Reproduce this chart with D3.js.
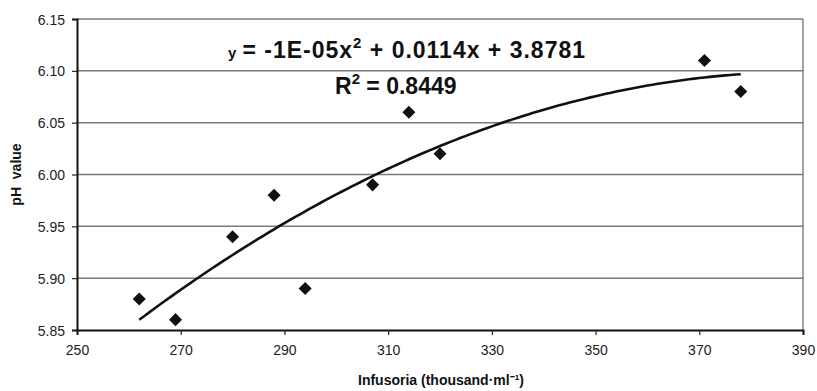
<!DOCTYPE html>
<html><head><meta charset="utf-8">
<script src="https://cdn.jsdelivr.net/npm/d3@7"></script>
<style>body{margin:0;background:#fff}svg{display:block}</style>
</head><body>
<svg id="c" width="817" height="391"></svg>
<script>
const infusoria = [262, 269, 280, 288, 294, 307, 314, 320, 371, 378];
const phValues  = [5.88, 5.86, 5.94, 5.98, 5.89, 5.99, 6.06, 6.02, 6.11, 6.08];
const xTicks = [250, 270, 290, 310, 330, 350, 370, 390];
const yTicks = [5.85, 5.90, 5.95, 6.00, 6.05, 6.10, 6.15];
const eqText = "= -1E-05x";
const eqRest = " + 0.0114x + 3.8781";
const r2Text = " = 0.8449";

const svg = d3.select("#c");
const L = 77, R = 803, T = 19, B = 330;
const x = d3.scaleLinear().domain([250, 390]).range([L, R]);
const y = d3.scaleLinear().domain([5.85, 6.15]).range([B, T]);
const font = "'Liberation Sans', Arial, sans-serif";

// gridlines
svg.append("g").selectAll("line").data(yTicks.slice(1)).join("line")
  .attr("x1", L).attr("x2", R).attr("y1", d => y(d)).attr("y2", d => y(d))
  .attr("stroke", "#7a7a7a").attr("stroke-width", 1.5);
// right border
svg.append("line").attr("x1", R).attr("x2", R).attr("y1", T).attr("y2", B)
  .attr("stroke", "#666").attr("stroke-width", 1.2);

// axes
const xAxis = svg.append("g").attr("transform", `translate(0,${B})`)
  .call(d3.axisBottom(x).tickValues(xTicks).tickSize(5).tickPadding(10).tickFormat(d3.format("d")));
const yAxis = svg.append("g").attr("transform", `translate(${L},0)`)
  .call(d3.axisLeft(y).tickValues(yTicks).tickSize(5).tickPadding(7).tickFormat(d3.format(".2f")));
[xAxis, yAxis].forEach(g => {
  g.select(".domain").attr("stroke", "#111").attr("stroke-width", 2);
  g.selectAll(".tick line").attr("stroke", "#222").attr("stroke-width", 1.2);
  g.selectAll("text").attr("font-family", font).attr("font-size", 14).attr("fill", "#222");
});
yAxis.selectAll("text").attr("dy", "0.36em");

// quadratic least squares trendline
function quadFit(xs, ys) {
  let S = [0,0,0,0,0], Sy = [0,0,0];
  xs.forEach((xi, i) => {
    for (let k = 0; k < 5; k++) S[k] += Math.pow(xi, k);
    for (let k = 0; k < 3; k++) Sy[k] += Math.pow(xi, k) * ys[i];
  });
  const M = [[S[0],S[1],S[2],Sy[0]],[S[1],S[2],S[3],Sy[1]],[S[2],S[3],S[4],Sy[2]]];
  for (let i = 0; i < 3; i++) {
    let p = i; for (let r = i+1; r < 3; r++) if (Math.abs(M[r][i]) > Math.abs(M[p][i])) p = r;
    [M[i], M[p]] = [M[p], M[i]];
    for (let r = 0; r < 3; r++) if (r !== i) {
      const f = M[r][i] / M[i][i];
      for (let c = i; c < 4; c++) M[r][c] -= f * M[i][c];
    }
  }
  return [M[0][3]/M[0][0], M[1][3]/M[1][1], M[2][3]/M[2][2]];
}
const [c0, c1, c2] = quadFit(infusoria, phValues);
const xmin = d3.min(infusoria), xmax = d3.max(infusoria);
const curve = d3.range(xmin, xmax + 0.01, 1).map(v => [v, c0 + c1*v + c2*v*v]);
svg.append("path").datum(curve)
  .attr("d", d3.line().x(d => x(d[0])).y(d => y(d[1])))
  .attr("fill", "none").attr("stroke", "#111").attr("stroke-width", 2.6);

// points
svg.append("g").selectAll("path").data(infusoria.map((v, i) => [v, phValues[i]])).join("path")
  .attr("d", d3.symbol(d3.symbolSquare, 85))
  .attr("transform", d => `translate(${x(d[0])},${y(d[1])}) rotate(45)`)
  .attr("fill", "#111");

// equation
const eq = svg.append("text").attr("x", 228).attr("y", 58)
  .attr("font-family", font).attr("font-weight", "bold").attr("font-size", 23).attr("fill", "#111");
eq.append("tspan").attr("font-size", 15).text("y ");
eq.append("tspan").text(eqText);
eq.append("tspan").attr("font-size", 15).attr("dy", -10).text("2");
eq.append("tspan").attr("dy", 10).text(eqRest);
const eqW = eq.node().getComputedTextLength();
const nCh = ("y " + eqText + "2" + eqRest).length;
eq.attr("letter-spacing", Math.max(0, (586 - 228 - eqW) / nCh));

const r2 = svg.append("text").attr("x", 335).attr("y", 94)
  .attr("font-family", font).attr("font-weight", "bold").attr("font-size", 23).attr("fill", "#111");
r2.append("tspan").text("R");
r2.append("tspan").attr("font-size", 15).attr("dy", -10).text("2");
r2.append("tspan").attr("dy", 10).text(r2Text);

// axis titles
svg.append("text").attr("x", 441).attr("y", 385).attr("text-anchor", "middle")
  .attr("font-family", font).attr("font-weight", "bold").attr("font-size", 14).attr("fill", "#111")
  .text("Infusoria (thousand·ml⁻¹)");
svg.append("text").attr("transform", `translate(21,${(T + B) / 2}) rotate(-90)`).attr("text-anchor", "middle")
  .attr("font-family", font).attr("font-weight", "bold").attr("font-size", 14).attr("fill", "#111")
  .style("white-space", "pre")
  .text("pH  value");
</script>
</body></html>
